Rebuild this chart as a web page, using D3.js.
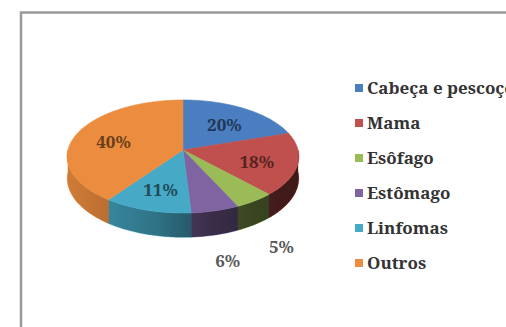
<!DOCTYPE html>
<html>
<head>
<meta charset="utf-8">
<script src="https://cdn.jsdelivr.net/npm/d3@7"></script>
<style>
  html, body { margin: 0; padding: 0; background: #fff; }
  svg { display: block; }
</style>
</head>
<body>
<svg id="chart" width="506" height="327"></svg>
<script>
// Tumour sites and their share of cases (%)
const categories = ["Cabeça e pescoço", "Mama", "Esôfago", "Estômago", "Linfomas", "Outros"];
const values = [20, 18, 5, 6, 11, 40];
const colors = ["#4A7EC0", "#C0504D", "#9BBB59", "#8064A2", "#46A9C6", "#EC8C3F"];

const svg = d3.select("#chart");
const serif = '"Noto Serif", "Liberation Serif", serif';

// chart area frame
svg.append("rect")
  .attr("x", 21).attr("y", 12.5)
  .attr("width", 600).attr("height", 400)
  .attr("fill", "#fff")
  .attr("stroke", "#9a9a9a")
  .attr("stroke-width", 2.5);

// 3D pie geometry: tilted disc seen with a little perspective
const cx = 183, cy = 150, rx = 115, ry = 55.75, persp = 0.115, depth = 21.5;

function proj(a, f, dy) {
  const u = f * Math.sin(a), v = -f * Math.cos(a);
  const s = 1 / (1 - persp * v);
  return [cx + rx * u * s, cy + ry * v * s + (dy || 0) * s];
}

function arcPoints(a0, a1, f, dy) {
  const n = Math.max(2, Math.ceil((a1 - a0) / (Math.PI / 180)));
  return d3.range(n + 1).map(i => proj(a0 + (a1 - a0) * i / n, f, dy));
}

const pie = d3.pie().sort(null).value(d => d).startAngle(0).endAngle(2 * Math.PI);
const arcs = pie(values);
const line = d3.line();

// outer walls (front half only)
const sides = svg.append("g");
const frontLo = Math.PI / 2, frontHi = 3 * Math.PI / 2;
const wallPaths = [];
arcs.forEach((d, i) => {
  const a0 = Math.max(d.startAngle, frontLo), a1 = Math.min(d.endAngle, frontHi);
  if (a1 <= a0) return;
  const top = arcPoints(a0, a1, 1, 0);
  const bottom = arcPoints(a0, a1, 1, depth).reverse();
  const p = line(top.concat(bottom)) + "Z";
  wallPaths.push(p);
  sides.append("path").attr("d", p).attr("fill", colors[i])
    .attr("stroke", colors[i]).attr("stroke-width", 0.5);
});

// horizontal shading across the wall
const defs = svg.append("defs");
const grad = defs.append("linearGradient")
  .attr("id", "wallShade")
  .attr("gradientUnits", "userSpaceOnUse")
  .attr("x1", cx - rx).attr("x2", cx + rx).attr("y1", 0).attr("y2", 0);
[[0, 0.12], [0.38, 0.32], [0.62, 0.55], [0.8, 0.63], [1, 0.68]].forEach(([o, a]) =>
  grad.append("stop").attr("offset", o).attr("stop-color", "#000").attr("stop-opacity", a));
sides.append("path")
  .attr("d", wallPaths.join(""))
  .attr("fill", "url(#wallShade)");

// top faces
const tops = svg.append("g");
arcs.forEach((d, i) => {
  const pts = [[cx, cy]].concat(arcPoints(d.startAngle, d.endAngle, 1, 0));
  tops.append("path")
    .attr("d", line(pts) + "Z")
    .attr("fill", colors[i])
    .attr("stroke", colors[i])
    .attr("stroke-width", 0.6);
});

// percentage labels: inside for large slices, below the wall for small ones
const labels = svg.append("g")
  .style("font-family", serif)
  .style("font-size", "17px")
  .style("font-weight", "bold")
  .attr("text-anchor", "middle");
arcs.forEach((d, i) => {
  const mid = (d.startAngle + d.endAngle) / 2;
  const inside = d.value >= 10;
  const [x, y] = inside ? proj(mid, 0.65, 0) : proj(mid, 1.33, depth);
  labels.append("text")
    .attr("x", x).attr("y", y + (inside ? 3 : 2))
    .attr("dy", "0.35em")
    .attr("fill", inside ? d3.color(colors[i]).darker(2.3) : "#555")
    .text(d.value + "%");
});

// legend
const ly = d3.scalePoint().domain(categories).range([88, 263]);
const legend = svg.append("g")
  .style("font-family", serif)
  .style("font-size", "17px")
  .style("font-weight", "bold")
  .attr("fill", "#333");
categories.forEach((c, i) => {
  const y = ly(c);
  legend.append("rect")
    .attr("x", 355).attr("y", y - 4)
    .attr("width", 8).attr("height", 8)
    .attr("fill", colors[i]);
  legend.append("text")
    .attr("x", 367).attr("y", y)
    .attr("dy", "0.35em")
    .text(c);
});
</script>
</body>
</html>
